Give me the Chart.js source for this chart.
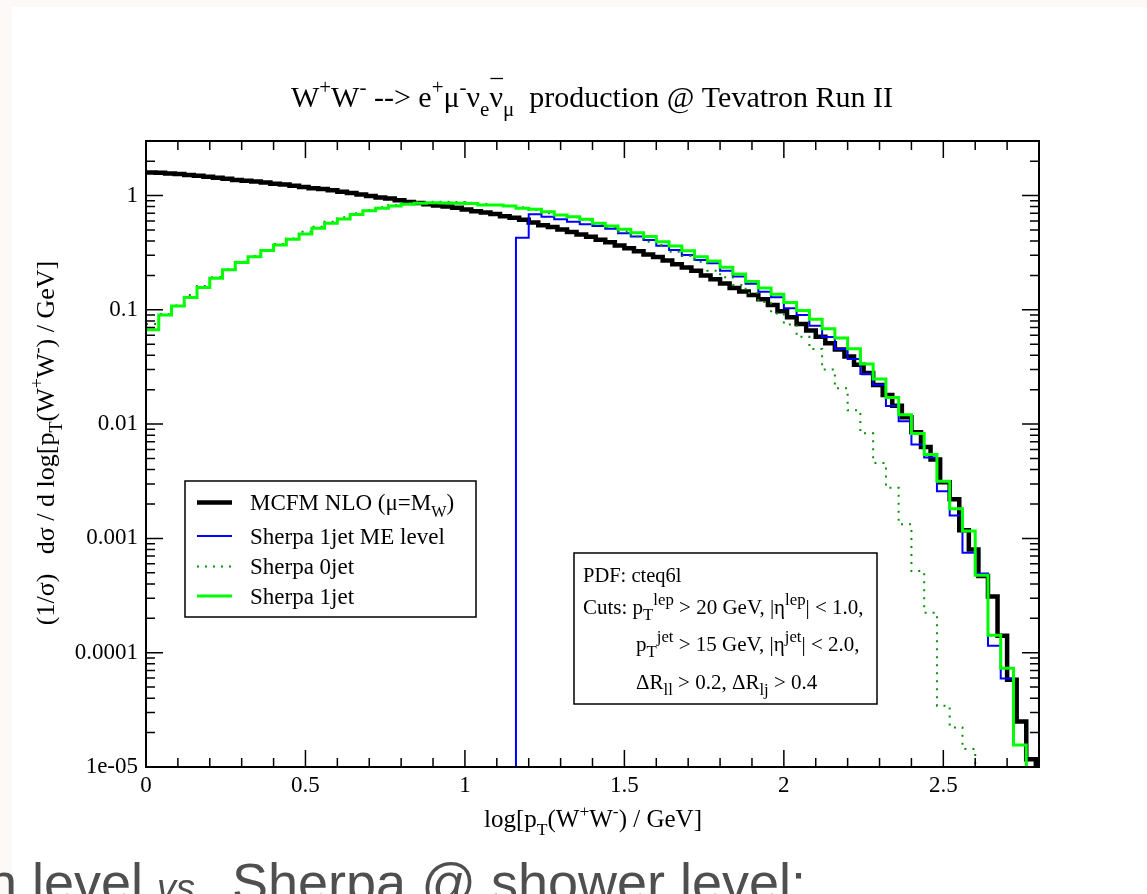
<!DOCTYPE html>
<html>
<head>
<meta charset="utf-8">
<script src="https://cdn.jsdelivr.net/npm/chart.js@4.4.0/dist/chart.umd.min.js"></script>
<style>
  html, body { margin: 0; padding: 0; background: #fdf9f6; }
  canvas { display: block; }
</style>
</head>
<body>
<canvas id="wwChart" width="1147" height="894"></canvas>
<script>
// histogram bin widths in log[pT/GeV]
const sherpaBinWidth = 0.04;
const mcfmBinWidth = 0.03;

// MCFM NLO (mu = M_W), 0.03 wide bins from 0
const mcfmNlo = [
  1.59, 1.58, 1.56, 1.54, 1.51, 1.49, 1.46, 1.43, 1.40, 1.37,
  1.35, 1.33, 1.30, 1.27, 1.25, 1.22, 1.19, 1.16, 1.14, 1.11,
  1.08, 1.05, 1.02, 0.99, 0.96, 0.94, 0.91, 0.88, 0.86, 0.84,
  0.82, 0.80, 0.78, 0.755, 0.73, 0.71, 0.69, 0.66, 0.64, 0.615,
  0.58, 0.55, 0.53, 0.505, 0.48, 0.455, 0.435, 0.41, 0.39, 0.365,
  0.345, 0.325, 0.305, 0.29, 0.27, 0.25, 0.235, 0.22, 0.20, 0.185,
  0.17, 0.155, 0.145, 0.135, 0.124, 0.11, 0.097, 0.086, 0.075, 0.066,
  0.058, 0.051, 0.045, 0.039, 0.033, 0.028, 0.022, 0.018, 0.0145, 0.0115,
  0.0085, 0.0063, 0.0049, 0.0031, 0.0022, 0.00118, 0.0008, 0.00047, 0.00031, 0.000141,
  5.8e-5, 2.5e-5, 1.17e-5, 1.05e-5
];

// Sherpa 1jet ME level, 0.04 wide bins (empty below 1.16)
const sherpaMe = [
  0, 0, 0, 0, 0, 0, 0, 0, 0, 0,
  0, 0, 0, 0, 0, 0, 0, 0, 0, 0,
  0, 0, 0, 0, 0, 0, 0, 0, 0, 0.428,
  0.685, 0.653, 0.62, 0.59, 0.56, 0.541, 0.513, 0.467, 0.437, 0.409,
  0.364, 0.334, 0.302, 0.273, 0.256, 0.22, 0.196, 0.169, 0.144, 0.129,
  0.103, 0.0902, 0.0725, 0.0578, 0.0455, 0.0371, 0.0275, 0.0221, 0.0144, 0.0106,
  0.00664, 0.0051, 0.00259, 0.00159, 0.00075, 0.000494, 0.000115, 5.96e-5, 1.56e-5, 0
];

// Sherpa 0jet
const sherpa0jet = [
  0.075, 0.092, 0.109, 0.135, 0.162, 0.193, 0.227, 0.264, 0.296, 0.334,
  0.377, 0.42, 0.483, 0.534, 0.59, 0.645, 0.70, 0.747, 0.789, 0.826,
  0.855, 0.872, 0.883, 0.883, 0.88, 0.865, 0.843, 0.826, 0.81, 0.789,
  0.747, 0.70, 0.676, 0.645, 0.611, 0.56, 0.527, 0.483, 0.437, 0.395,
  0.37, 0.323, 0.296, 0.264, 0.22, 0.193, 0.165, 0.14, 0.117, 0.093,
  0.0745, 0.058, 0.0455, 0.030, 0.0206, 0.0132, 0.0083, 0.00458, 0.00277, 0.00133,
  0.000518, 0.000224, 3.43e-5, 2.22e-5, 1.44e-5, 0, 0, 0, 0, 0
];

// Sherpa 1jet
const sherpa1jet = [
  0.067, 0.090, 0.108, 0.128, 0.157, 0.189, 0.224, 0.259, 0.292, 0.330,
  0.370, 0.414, 0.461, 0.517, 0.572, 0.623, 0.684, 0.736, 0.773, 0.81,
  0.838, 0.855, 0.865, 0.86, 0.855, 0.85, 0.826, 0.826, 0.81, 0.773,
  0.76, 0.72, 0.676, 0.653, 0.62, 0.572, 0.541, 0.506, 0.473, 0.437,
  0.395, 0.362, 0.328, 0.292, 0.268, 0.236, 0.206, 0.177, 0.155, 0.137,
  0.116, 0.0986, 0.0828, 0.0683, 0.0566, 0.0456, 0.0336, 0.0248, 0.0171, 0.0121,
  0.00826, 0.00542, 0.00316, 0.00182, 0.00116, 0.000475, 0.000142, 7.3e-5, 1.56e-5, 0
];

const xTicks = [0, 0.5, 1, 1.5, 2, 2.5];
const xTickLabels = ['0', '0.5', '1', '1.5', '2', '2.5'];
const yTicks = [1e-5, 1e-4, 1e-3, 1e-2, 1e-1, 1];
const yTickLabels = ['1e-05', '0.0001', '0.001', '0.01', '0.1', '1'];

const SERIF = '"Liberation Serif", "Times New Roman", serif';
const FLOOR = 1e-9; // empty bins go below the axis (clipped)

// left bin edges + closing edge, for stepped lines
const toSteps = (vals, w) => {
  const pts = vals.map((v, i) => ({ x: +(i * w).toFixed(4), y: v > 0 ? v : FLOOR }));
  pts.push({ x: +(vals.length * w).toFixed(4), y: pts[pts.length - 1].y });
  return pts;
};

// text with sub/superscripts: segs = [[text, mode]]
function richText(ctx, segs, x, y, size, align, scriptScale) {
  const small = size * (scriptScale || 0.7);
  const fontFor = m => ((m === 'sup' || m === 'sub') ? small : size) + 'px ' + SERIF;
  let total = 0;
  segs.forEach(([t, m]) => { ctx.font = fontFor(m); total += ctx.measureText(t).width; });
  let cx = align === 'center' ? x - total / 2 : x;
  ctx.textAlign = 'left';
  ctx.textBaseline = 'alphabetic';
  segs.forEach(([t, m]) => {
    ctx.font = fontFor(m);
    const dy = m === 'sup' ? -size * 0.42 : (m === 'sub' ? size * 0.3 : 0);
    ctx.fillText(t, cx, y + dy);
    const w = ctx.measureText(t).width;
    if (m === 'bar') {
      ctx.beginPath();
      ctx.lineWidth = 1.3;
      ctx.moveTo(cx + 1, y - size * 0.95);
      ctx.lineTo(cx + w, y - size * 0.95);
      ctx.stroke();
    }
    cx += w;
  });
}

const decorPlugin = {
  id: 'decor',
  beforeDraw(chart) {
    const ctx = chart.ctx;
    ctx.save();
    ctx.fillStyle = '#fdf9f6';
    ctx.fillRect(0, 0, chart.width, chart.height);
    ctx.fillStyle = '#ffffff';
    ctx.fillRect(12, 7, chart.width - 12, chart.height - 7);
    ctx.restore();
  },
  afterDraw(chart) {
    const ctx = chart.ctx;
    const a = chart.chartArea;
    const xs = chart.scales.x, ys = chart.scales.y;
    ctx.save();
    ctx.strokeStyle = '#000';
    ctx.fillStyle = '#000';

    // frame
    ctx.lineWidth = 2;
    ctx.strokeRect(a.left, a.top, a.right - a.left, a.bottom - a.top);

    // inward ticks on all four sides
    ctx.lineWidth = 1.5;
    ctx.beginPath();
    for (let i = 0; i <= 28; i++) {
      const px = xs.getPixelForValue(i / 10);
      const len = i % 5 === 0 ? 17 : 9;
      ctx.moveTo(px, a.bottom); ctx.lineTo(px, a.bottom - len);
      ctx.moveTo(px, a.top); ctx.lineTo(px, a.top + len);
    }
    for (let d = -5; d <= 0; d++) {
      for (let m = 1; m <= 9; m++) {
        const v = m * Math.pow(10, d);
        if (v > ys.max * 0.999) continue;
        const py = ys.getPixelForValue(v);
        const len = m === 1 ? 17 : 9;
        ctx.moveTo(a.left, py); ctx.lineTo(a.left + len, py);
        ctx.moveTo(a.right, py); ctx.lineTo(a.right - len, py);
      }
    }
    ctx.stroke();

    // title
    richText(ctx, [['W'], ['+', 'sup'], ['W'], ['-', 'sup'], [' --> e'], ['+', 'sup'], ['\u03bc'], ['-', 'sup'],
      ['\u03bd'], ['e', 'sub'], ['\u03bd', 'bar'], ['\u03bc', 'sub'], ['  production @ Tevatron Run II']],
      592, 107, 30, 'center');

    // x axis title
    richText(ctx, [['log[p'], ['T', 'sub'], ['(W'], ['+', 'sup'], ['W'], ['-', 'sup'], [') / GeV]']],
      593, 827, 25, 'center');

    // y axis title
    ctx.save();
    ctx.translate(54, 443);
    ctx.rotate(-Math.PI / 2);
    richText(ctx, [['(1/\u03c3)   d\u03c3 / d log[p'], ['T', 'sub'], ['(W'], ['+', 'sup'], ['W'], ['-', 'sup'], [') / GeV]']],
      0, 0, 26, 'center');
    ctx.restore();

    // legend
    ctx.fillStyle = '#fff';
    ctx.fillRect(185, 481, 291, 136);
    ctx.fillStyle = '#000';
    ctx.lineWidth = 1.5;
    ctx.strokeRect(185, 481, 291, 136);
    const rows = [502.5, 536, 566.5, 596];
    chart.data.datasets.slice().sort((p, q) => p.legendRank - q.legendRank).forEach((ds, i) => {
      ctx.save();
      ctx.strokeStyle = ds.borderColor;
      ctx.lineWidth = ds.borderWidth;
      ctx.setLineDash(ds.borderDash || []);
      ctx.beginPath();
      ctx.moveTo(197, rows[i]);
      ctx.lineTo(232, rows[i]);
      ctx.stroke();
      ctx.restore();
      richText(ctx, ds.legendText, 250, rows[i] + 7.5, 23, 'left');
    });

    // info box
    ctx.fillStyle = '#fff';
    ctx.fillRect(574, 553, 303, 151);
    ctx.fillStyle = '#000';
    ctx.strokeRect(574, 553, 303, 151);
    richText(ctx, [['PDF: cteq6l']], 583, 582, 20.5, 'left');
    richText(ctx, [['Cuts: p'], ['T', 'sub'], ['lep', 'sup'], [' > 20 GeV, |\u03b7'], ['lep', 'sup'], ['| < 1.0,']], 583, 614, 21, 'left', 0.8);
    richText(ctx, [['p'], ['T', 'sub'], ['jet', 'sup'], [' > 15 GeV, |\u03b7'], ['jet', 'sup'], ['| < 2.0,']], 636, 651, 21, 'left', 0.8);
    richText(ctx, [['\u0394R'], ['ll', 'sub'], [' > 0.2, \u0394R'], ['lj', 'sub'], [' > 0.4']], 636, 689, 21, 'left', 0.8);

    // slide text under the plot
    ctx.fillStyle = '#4f4f4f';
    ctx.textBaseline = 'alphabetic';
    ctx.font = '54px "Liberation Sans", Arial, sans-serif';
    ctx.textAlign = 'right';
    ctx.fillText('n level', 143, 901);
    ctx.textAlign = 'left';
    ctx.font = 'italic 38px "Liberation Sans", Arial, sans-serif';
    ctx.fillText('vs.', 157, 901);
    ctx.font = '54px "Liberation Sans", Arial, sans-serif';
    ctx.fillText('Sherpa @ shower level:', 232, 901);

    ctx.restore();
  }
};

const lineStyle = { pointRadius: 0, fill: false, stepped: true, borderJoinStyle: 'miter', borderCapStyle: 'butt', clip: 0 };

const ctx = document.getElementById('wwChart').getContext('2d');
const chart = new Chart(ctx, {
  type: 'line',
  data: {
    datasets: [
      Object.assign({
        label: 'Sherpa 1jet', legendRank: 3, legendText: [['Sherpa 1jet']],
        data: toSteps(sherpa1jet, sherpaBinWidth),
        borderColor: '#00ff00', borderWidth: 3
      }, lineStyle),
      Object.assign({
        label: 'Sherpa 0jet', legendRank: 2, legendText: [['Sherpa 0jet']],
        data: toSteps(sherpa0jet, sherpaBinWidth),
        borderColor: '#0a8f0a', borderWidth: 2, borderDash: [2, 6]
      }, lineStyle),
      Object.assign({
        label: 'Sherpa 1jet ME level', legendRank: 1, legendText: [['Sherpa 1jet ME level']],
        data: toSteps(sherpaMe, sherpaBinWidth),
        borderColor: '#0000ff', borderWidth: 2
      }, lineStyle),
      Object.assign({
        label: 'MCFM NLO', legendRank: 0, legendText: [['MCFM NLO (\u03bc=M'], ['W', 'sub'], [')']],
        data: toSteps(mcfmNlo, mcfmBinWidth),
        borderColor: '#000000', borderWidth: 4.5
      }, lineStyle)
    ]
  },
  options: {
    responsive: false,
    animation: false,
    devicePixelRatio: 1,
    layout: { padding: { left: 0, top: 141, right: 108, bottom: 67 } },
    plugins: { legend: { display: false }, tooltip: { enabled: false }, title: { display: false } },
    scales: {
      x: {
        type: 'linear', min: 0, max: 2.8,
        grid: { display: false, drawTicks: false },
        border: { display: false },
        afterBuildTicks: s => { s.ticks = xTicks.map(v => ({ value: v })); },
        afterFit: s => { s.height = 60; },
        ticks: {
          autoSkip: false, maxRotation: 0, padding: 5, color: '#000',
          font: { family: SERIF, size: 23 },
          callback: (v, i) => xTickLabels[i]
        }
      },
      y: {
        type: 'logarithmic', min: 1e-5, max: 3,
        grid: { display: false, drawTicks: false },
        border: { display: false },
        afterBuildTicks: s => { s.ticks = yTicks.map(v => ({ value: v })); },
        afterFit: s => { s.width = 146; },
        ticks: {
          autoSkip: false, padding: 8, color: '#000',
          font: { family: SERIF, size: 23 },
          callback: (v, i) => yTickLabels[i]
        }
      }
    }
  },
  plugins: [decorPlugin]
});
</script>
</body>
</html>
